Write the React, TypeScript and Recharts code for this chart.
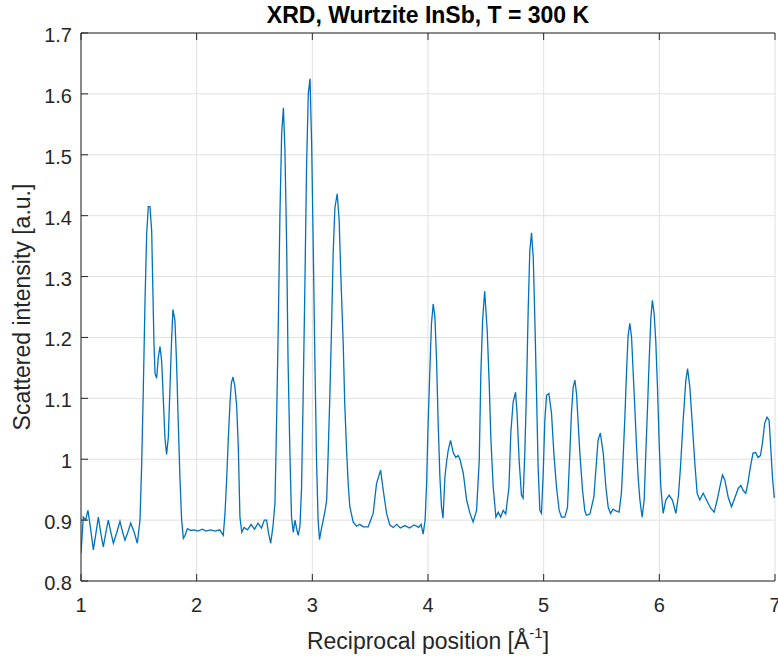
import React from "react";
import { LineChart, Line, XAxis, YAxis, CartesianGrid, Label } from "recharts";

// Reciprocal position [1/Å]
const position: number[] = [
  1.0, 1.02, 1.04, 1.06, 1.08, 1.107, 1.13, 1.15, 1.17, 1.193, 1.215, 1.236, 1.258, 1.28, 1.31, 1.337, 1.36, 1.38, 1.405, 1.43, 1.46, 1.487, 1.51,
  1.524, 1.538, 1.553, 1.568, 1.582, 1.596, 1.611, 1.62, 1.631, 1.64, 1.654, 1.668, 1.683, 1.697, 1.711, 1.726, 1.74, 1.755, 1.769, 1.784, 1.795, 1.812, 1.827, 1.841, 1.856, 1.87,
  1.885, 1.9, 1.92, 1.95, 1.98, 2.01, 2.05, 2.08, 2.12, 2.16, 2.2, 2.23,
  2.245, 2.26, 2.273, 2.288, 2.3, 2.314, 2.33, 2.346, 2.36, 2.374, 2.39,
  2.41, 2.44, 2.47, 2.5, 2.53, 2.56, 2.585, 2.605, 2.62, 2.64, 2.66, 2.677,
  2.69, 2.706, 2.72, 2.735, 2.75, 2.763, 2.778, 2.79, 2.807, 2.82, 2.835, 2.85, 2.865, 2.878, 2.893,
  2.907, 2.92, 2.936, 2.95, 2.965, 2.98, 2.994, 3.008, 3.023, 3.037, 3.05, 3.062, 3.078, 3.094, 3.11, 3.124,
  3.137, 3.152, 3.167, 3.18, 3.195, 3.215, 3.232, 3.247, 3.267, 3.28, 3.296, 3.31, 3.324, 3.353, 3.382, 3.41, 3.44, 3.483,
  3.526, 3.555, 3.59, 3.613, 3.642, 3.67, 3.7, 3.73, 3.76, 3.8, 3.84, 3.88, 3.92, 3.94, 3.958, 3.975,
  3.988, 4.0, 4.016, 4.03, 4.045, 4.06, 4.074, 4.088, 4.103, 4.117, 4.13, 4.146, 4.16, 4.175, 4.195, 4.218, 4.24, 4.26, 4.276, 4.305, 4.334, 4.363, 4.39, 4.42,
  4.443, 4.457, 4.472, 4.49, 4.512, 4.529, 4.544, 4.564, 4.587, 4.607, 4.628, 4.65, 4.672, 4.7, 4.716, 4.736, 4.757, 4.77, 4.788, 4.808, 4.822,
  4.837, 4.852, 4.866, 4.88, 4.895, 4.91, 4.924, 4.939, 4.952, 4.967, 4.981, 4.996, 5.01, 5.025, 5.045, 5.068, 5.088, 5.111, 5.134, 5.154, 5.183, 5.206,
  5.226, 5.24, 5.255, 5.27, 5.284, 5.313, 5.336, 5.356, 5.37, 5.4, 5.434, 5.451, 5.47, 5.49, 5.515, 5.538, 5.558, 5.578, 5.6, 5.625, 5.652,
  5.672, 5.686, 5.702, 5.716, 5.73, 5.745, 5.76, 5.773, 5.788, 5.803, 5.817, 5.832, 5.851, 5.869, 5.883, 5.898, 5.912, 5.927, 5.94, 5.955, 5.969, 5.984, 5.998, 6.013, 6.033,
  6.056, 6.085, 6.113, 6.143, 6.165, 6.183, 6.206, 6.229, 6.244, 6.264, 6.287, 6.307, 6.327, 6.35, 6.379, 6.408, 6.443, 6.474, 6.5, 6.523, 6.546, 6.566, 6.595, 6.624,
  6.65, 6.682, 6.705, 6.724, 6.747, 6.765, 6.787, 6.81, 6.833, 6.853, 6.874, 6.891, 6.911, 6.931, 6.949, 6.963, 6.978, 6.993, 7.0,
];

// Scattered intensity [a.u.]
const intensity: number[] = [
  0.846, 0.905, 0.9, 0.916, 0.89, 0.851, 0.88, 0.905, 0.88, 0.856, 0.88, 0.9, 0.88, 0.862, 0.88, 0.898, 0.88, 0.867, 0.88, 0.895, 0.88, 0.862, 0.9,
  0.987, 1.108, 1.256, 1.371, 1.415, 1.415, 1.375, 1.289, 1.19, 1.141, 1.133, 1.167, 1.185, 1.162, 1.102, 1.034, 1.008, 1.036, 1.116, 1.2, 1.246, 1.228, 1.154, 1.059, 0.966, 0.9,
  0.87, 0.875, 0.886, 0.883, 0.884, 0.882, 0.885, 0.882, 0.884, 0.882, 0.884, 0.875,
  0.911, 0.97, 1.031, 1.092, 1.125, 1.135, 1.12, 1.087, 1.02, 0.905, 0.88,
  0.888, 0.884, 0.893, 0.885, 0.895, 0.887, 0.9, 0.9, 0.88, 0.862, 0.89, 0.928,
  1.052, 1.225, 1.403, 1.536, 1.577, 1.507, 1.351, 1.162, 1.003, 0.905, 0.88, 0.9, 0.885, 0.875, 0.89,
  0.954, 1.097, 1.289, 1.479, 1.6, 1.625, 1.518, 1.348, 1.151, 0.993, 0.9, 0.868, 0.885, 0.9, 0.915, 0.933,
  1.01, 1.108, 1.223, 1.338, 1.413, 1.436, 1.392, 1.298, 1.19, 1.092, 1.015, 0.96, 0.922, 0.897, 0.89, 0.893, 0.889, 0.889,
  0.911, 0.96, 0.982, 0.949, 0.911, 0.892, 0.888, 0.893, 0.887, 0.891, 0.887, 0.892, 0.888, 0.893, 0.877, 0.9,
  0.96, 1.052, 1.146, 1.223, 1.255, 1.233, 1.162, 1.059, 0.97, 0.921, 0.903, 0.97, 0.995, 1.015, 1.031, 1.011, 1.003, 1.006, 1.0, 0.977, 0.933, 0.911, 0.897, 0.916,
  0.998, 1.141, 1.228, 1.276, 1.211, 1.125, 1.031, 0.954, 0.905, 0.913, 0.905, 0.916, 0.91, 0.954, 1.043, 1.094, 1.11, 1.075, 0.998, 0.941, 0.936,
  1.01, 1.118, 1.244, 1.342, 1.372, 1.331, 1.228, 1.102, 0.987, 0.916, 0.911, 0.977, 1.064, 1.105, 1.108, 1.075, 1.01, 0.954, 0.916, 0.905, 0.905, 0.921,
  1.01, 1.075, 1.118, 1.13, 1.108, 1.01, 0.949, 0.915, 0.908, 0.91, 0.938, 0.982, 1.031, 1.043, 1.01, 0.954, 0.921, 0.911, 0.918, 0.915, 0.913,
  0.944, 0.998, 1.069, 1.141, 1.203, 1.223, 1.2, 1.146, 1.085, 1.02, 0.97, 0.933, 0.905, 0.933, 1.01, 1.085, 1.162, 1.233, 1.261, 1.239, 1.195, 1.118, 1.031, 0.954, 0.911,
  0.933, 0.941, 0.933, 0.911, 0.94, 0.987, 1.064, 1.129, 1.149, 1.118, 1.052, 0.993, 0.944, 0.933, 0.944, 0.933, 0.92, 0.913, 0.933, 0.954, 0.974, 0.966, 0.938, 0.922,
  0.935, 0.952, 0.957, 0.949, 0.944, 0.96, 0.987, 1.01, 1.011, 1.003, 1.006, 1.026, 1.059, 1.069, 1.064, 1.02, 0.97, 0.938, 0.94,
];

const xTicks: number[] = [1, 2, 3, 4, 5, 6, 7];
const yTicks: number[] = [0.8, 0.9, 1.0, 1.1, 1.2, 1.3, 1.4, 1.5, 1.6, 1.7];

const titleText = "XRD, Wurtzite InSb, T = 300 K";
const xLabelText = "Reciprocal position [Å";
const yLabelText = "Scattered intensity [a.u.]";

const data = position.map((x, i) => ({ x, y: intensity[i] }));

const FONT = "'Liberation Sans', Arial, Helvetica, sans-serif";
const AX = "#262626";
const TICK_FS = 20;
const LABEL_FS = 23;
const TICK_LEN = 7;

const fmt = (v: number) => String(Number(v.toFixed(1)));

const BottomTick = (props: any) => {
  const { x, y, payload } = props;
  return (
    <g>
      <line x1={x} y1={y} x2={x} y2={y - TICK_LEN} stroke={AX} strokeWidth={1} />
      <text x={x} y={y + 24} textAnchor="middle" dominantBaseline="central" fontFamily={FONT} fontSize={TICK_FS} fill={AX}>
        {fmt(payload.value)}
      </text>
    </g>
  );
};

const TopTick = (props: any) => {
  const { x, y } = props;
  return <line x1={x} y1={y} x2={x} y2={y + TICK_LEN} stroke={AX} strokeWidth={1} />;
};

const LeftTick = (props: any) => {
  const { x, y, payload } = props;
  return (
    <g>
      <line x1={x} y1={y} x2={x + TICK_LEN} y2={y} stroke={AX} strokeWidth={1} />
      <text x={x - 9} y={y + 2} textAnchor="end" dominantBaseline="central" fontFamily={FONT} fontSize={TICK_FS} fill={AX}>
        {fmt(payload.value)}
      </text>
    </g>
  );
};

const RightTick = (props: any) => {
  const { x, y } = props;
  return <line x1={x} y1={y} x2={x - TICK_LEN} y2={y} stroke={AX} strokeWidth={1} />;
};

const XLabelContent = (props: any) => {
  const vb = props.viewBox || {};
  return (
    <text x={vb.x + vb.width / 2} y={vb.y + 60} textAnchor="middle" dominantBaseline="central" fontFamily={FONT} fontSize={LABEL_FS} fill={AX}>
      <tspan>{xLabelText}</tspan>
      <tspan dy={-9} fontSize={15}>-1</tspan>
      <tspan dy={9}>]</tspan>
    </text>
  );
};

const YLabelContent = (props: any) => {
  const vb = props.viewBox || {};
  const cx = vb.x + 22;
  const cy = vb.y + vb.height / 2;
  return (
    <text x={cx} y={cy} transform={`rotate(-90 ${cx} ${cy})`} textAnchor="middle" dominantBaseline="central" fontFamily={FONT} fontSize={LABEL_FS} fill={AX}>
      {yLabelText}
    </text>
  );
};

export default function App() {
  return (
    <div style={{ position: "absolute", left: 0, top: 0, width: 778, height: 657, background: "#fff" }}>
      <div
        style={{
          position: "absolute",
          left: 81,
          top: 0,
          width: 694,
          height: 31,
          lineHeight: "31px",
          textAlign: "center",
          fontFamily: FONT,
          fontSize: LABEL_FS,
          fontWeight: "bold",
          color: "#000",
          whiteSpace: "nowrap",
        }}
      >
        {titleText}
      </div>
      <LineChart width={778} height={657} data={data} margin={{ top: 32, right: 3, bottom: 0, left: 0 }}>
        <CartesianGrid stroke="#e0e0e0" strokeWidth={1} />
        <XAxis
          dataKey="x"
          type="number"
          domain={[1, 7]}
          ticks={xTicks}
          interval={0}
          allowDataOverflow
          height={76}
          tickSize={0}
          tickMargin={0}
          tickLine={false}
          axisLine={{ stroke: AX, strokeWidth: 1 }}
          tick={<BottomTick />}
          label={<Label content={<XLabelContent />} />}
        />
        <XAxis
          xAxisId="top"
          dataKey="x"
          orientation="top"
          type="number"
          domain={[1, 7]}
          ticks={xTicks}
          interval={0}
          allowDataOverflow
          height={1}
          tickSize={0}
          tickMargin={0}
          tickLine={false}
          axisLine={{ stroke: AX, strokeWidth: 1 }}
          tick={<TopTick />}
        />
        <YAxis
          type="number"
          domain={[0.8, 1.7]}
          ticks={yTicks}
          interval={0}
          allowDataOverflow
          width={81}
          tickSize={0}
          tickMargin={0}
          tickLine={false}
          axisLine={{ stroke: AX, strokeWidth: 1 }}
          tick={<LeftTick />}
          label={<Label content={<YLabelContent />} />}
        />
        <YAxis
          yAxisId="right"
          orientation="right"
          type="number"
          domain={[0.8, 1.7]}
          ticks={yTicks}
          interval={0}
          allowDataOverflow
          width={0}
          tickSize={0}
          tickMargin={0}
          tickLine={false}
          axisLine={{ stroke: AX, strokeWidth: 1 }}
          tick={<RightTick />}
        />
        <Line
          xAxisId="top"
          yAxisId="right"
          type="linear"
          dataKey="y"
          stroke="none"
          strokeWidth={0}
          dot={false}
          activeDot={false}
          legendType="none"
          isAnimationActive={false}
        />
        <Line
          type="linear"
          dataKey="y"
          stroke="#0072BD"
          strokeWidth={1.3}
          dot={false}
          activeDot={false}
          isAnimationActive={false}
        />
      </LineChart>
    </div>
  );
}
